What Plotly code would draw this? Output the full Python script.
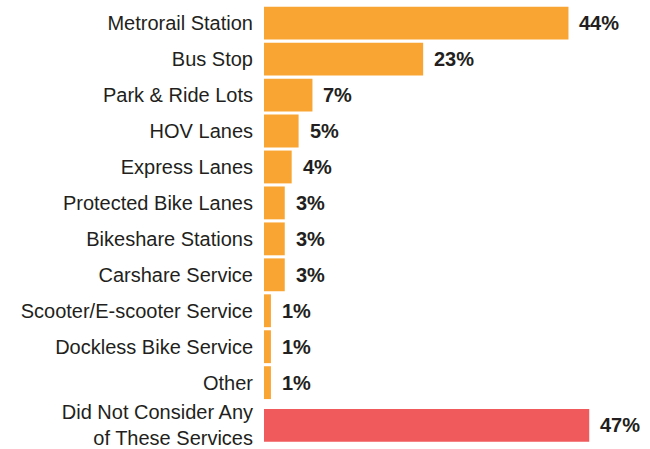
import plotly.graph_objects as go

categories = ["Metrorail Station", "Bus Stop", "Park & Ride Lots", "HOV Lanes",
              "Express Lanes", "Protected Bike Lanes", "Bikeshare Stations",
              "Carshare Service", "Scooter/E-scooter Service", "Dockless Bike Service",
              "Other", "Did Not Consider Any<br>of These Services"]
values = [44, 23, 7, 5, 4, 3, 3, 3, 1, 1, 1, 47]
value_labels = ["44%", "23%", "7%", "5%", "4%", "3%", "3%", "3%", "1%", "1%", "1%", "47%"]

ORANGE = "#F9A533"
RED = "#F05A5C"
TEXT = "#231f20"
FONT = "Liberation Sans, Arial, sans-serif"
GROUP_GAP = 0.19  # extra spacing before the last row

n = len(categories)
ypos = [i + (GROUP_GAP if i == n - 1 else 0) for i in range(n)]
colors = [RED if i == n - 1 else ORANGE for i in range(n)]

fig = go.Figure()
fig.add_trace(go.Bar(
    x=values, y=ypos, orientation="h", marker=dict(color=colors, line=dict(width=0)),
    width=0.914, hoverinfo="skip", showlegend=False,
))

for v, y, t in zip(values, ypos, value_labels):
    fig.add_annotation(x=v, y=y, text="<b>" + t + "</b>", showarrow=False,
                       xanchor="left", yanchor="middle", xshift=9,
                       font=dict(family=FONT, size=20, color=TEXT))

fig.update_layout(
    width=650, height=449,
    margin=dict(l=264, r=40, t=0, b=0),
    paper_bgcolor="white", plot_bgcolor="white",
    font=dict(family=FONT, size=20, color=TEXT),
    xaxis=dict(range=[0, 50], visible=False, fixedrange=True),
    yaxis=dict(range=[11.79, -0.645], tickmode="array", tickvals=ypos, ticktext=categories,
               showgrid=False, zeroline=False, showline=False, ticks="",
               ticklabelstandoff=10, ticklabeloverflow="allow", fixedrange=True,
               tickfont=dict(family=FONT, size=20, color=TEXT)),
)

fig.write_html("out.html")
